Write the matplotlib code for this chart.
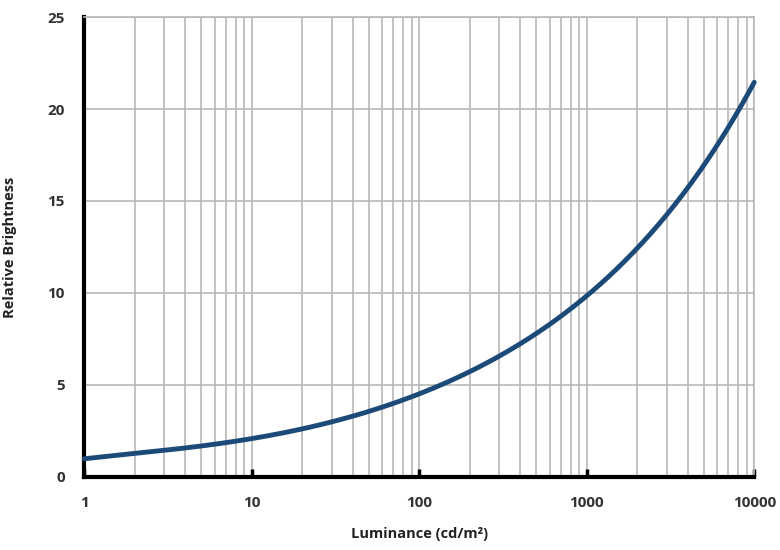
import numpy as np
import matplotlib
matplotlib.use("Agg")
import matplotlib.pyplot as plt
from matplotlib.ticker import FixedLocator, NullFormatter

# luminance (cd/m2) and relative brightness
luminance = [1, 2, 3, 5, 10, 20, 30, 50, 70, 100, 200, 300, 500, 700,
             1000, 2000, 3000, 4000, 5000, 6000, 7000, 8000, 10000]
brightness = [1.0, 1.25, 1.4, 1.7, 2.1, 2.65, 3.0, 3.5, 4.0, 4.55, 5.65, 6.5, 7.8, 8.75,
              10.0, 12.4, 14.2, 15.6, 17.0, 18.1, 19.0, 19.8, 21.5]

x_ticks = [1, 10, 100, 1000, 10000]
x_labels = ["1", "10", "100", "1000", "10000"]
y_ticks = [0, 5, 10, 15, 20, 25]

plt.rcParams['font.family'] = ['Open Sans', 'DejaVu Sans']

fig = plt.figure(figsize=(7.8, 5.5), dpi=100)
ax = fig.add_axes([0.108, 0.133, 0.859, 0.836])

# draw a smooth line through the read points (fit in log space)
lx = np.log10(luminance)
coef = np.polyfit(lx, brightness, 5)
xs = np.linspace(lx[0], lx[-1], 400)
ax.plot(10 ** xs, np.polyval(coef, xs), color='#1c4a78', lw=3.5,
        solid_capstyle='round', zorder=3, clip_on=False)

ax.set_xscale('log')
ax.set_xlim(1, 10000)
ax.set_ylim(0, 25)

minor = [m * 10 ** e for e in range(4) for m in range(2, 10)]
ax.xaxis.set_minor_locator(FixedLocator(minor))
ax.xaxis.set_minor_formatter(NullFormatter())
ax.set_xticks(x_ticks)
ax.set_xticklabels(x_labels)
ax.set_yticks(y_ticks)

ax.grid(True, which='both', axis='x', color='#b8b8b8', lw=1.2)
ax.grid(True, which='major', axis='y', color='#b8b8b8', lw=1.2)

for s in ['top', 'right']:
    ax.spines[s].set_color('#b8b8b8')
    ax.spines[s].set_linewidth(1.2)
for s in ['left', 'bottom']:
    ax.spines[s].set_color('black')
    ax.spines[s].set_linewidth(3)

ax.tick_params(axis='x', which='major', direction='in', length=6, width=2.5, color='black', pad=14)
ax.tick_params(axis='x', which='minor', length=0)
ax.tick_params(axis='y', length=0, pad=14)
for lab in ax.get_xticklabels() + ax.get_yticklabels():
    lab.set_fontweight('bold')
    lab.set_fontsize(11)
    lab.set_color('#333333')

ax.set_xlabel('Luminance (cd/m²)', fontsize=10.5, fontweight='bold', color='#222222', labelpad=12)
ax.set_ylabel('Relative Brightness', fontsize=10.5, fontweight='bold', color='#222222', labelpad=22)

fig.savefig('out.png', dpi=100)
